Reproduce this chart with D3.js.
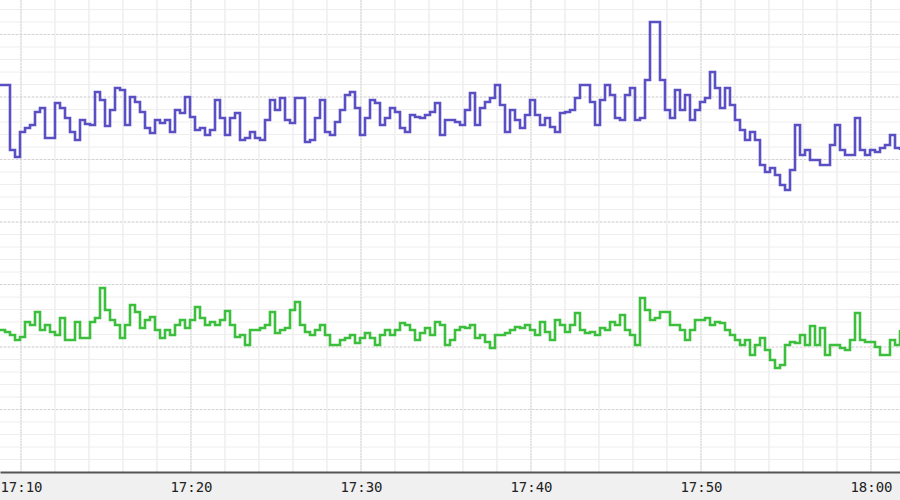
<!DOCTYPE html>
<html><head><meta charset="utf-8">
<script src="https://cdn.jsdelivr.net/npm/d3@7"></script>
<style>body{margin:0;background:#fff}svg{display:block}</style>
</head><body><svg id="c" width="900" height="500"></svg>
<script>
// sample step: 17.647 s, first sample at 17:08:46
const startTime = new Date(2020,0,1,17,8,46);
const stepSec = 300/17;
const tickLabels = ["17:10","17:20","17:30","17:40","17:50","18:00"];
const blueValues = [387,387,322,315,340,344,347,360,364,334,334,369,364,354,340,332,352,348,347,380,372,346,362,384,382,347,375,370,360,344,339,352,349,352,340,362,359,375,355,342,344,337,342,372,354,337,354,359,332,334,340,334,332,352,372,362,374,352,349,374,374,330,332,354,372,340,337,350,362,377,380,364,337,354,372,369,347,354,364,360,344,340,357,355,354,357,360,369,337,352,352,350,347,362,379,347,364,370,374,387,367,340,362,352,344,357,372,357,347,354,345,340,359,360,362,374,387,387,370,347,372,387,377,354,352,377,384,352,354,392,450,450,392,362,354,382,362,377,352,362,370,374,400,384,364,384,367,352,342,332,340,332,307,300,304,297,287,282,302,347,317,322,312,312,307,307,327,347,322,317,317,354,322,317,322,320,324,327,337,324,322];
const greenValues = [142,140,137,132,135,150,147,160,142,147,140,137,154,132,132,150,134,134,150,154,184,162,152,147,134,147,167,160,144,152,155,142,134,142,137,147,152,144,152,165,154,147,150,147,152,161,147,135,137,127,142,142,144,147,160,139,142,144,162,170,147,140,137,142,147,137,127,127,132,134,137,129,134,139,134,127,137,142,137,142,149,147,142,132,139,144,137,150,147,127,132,142,145,144,147,134,137,130,124,137,137,139,142,145,144,147,142,137,150,140,132,152,147,140,147,159,142,139,140,137,144,142,150,147,157,142,137,127,174,162,152,154,160,160,147,147,142,132,142,152,152,154,147,150,149,142,137,132,127,132,117,127,134,122,112,104,107,127,130,129,137,127,146,127,144,117,127,127,124,122,132,159,132,130,130,125,117,117,132,127,142];

const W=900, H=472;
const svg=d3.select("#c");
const x=d3.scaleTime().domain([startTime,new Date(+startTime+900/17*60000)]).range([0,W]);
const y=d3.scaleLinear().domain([0,472]).range([H,0]);
const t=i=>new Date(+startTime+i*stepSec*1000);

svg.append("rect").attr("x",0).attr("y",H).attr("width",W).attr("height",500-H).attr("fill","#f0f0f0");
const g=svg.append("g");
x.ticks(d3.timeMinute.every(2)).forEach(d=>g.append("line").attr("x1",x(d)).attr("x2",x(d)).attr("y1",0).attr("y2",H).attr("stroke","#e6e6e6"));
d3.range(12.5,472,12.5).forEach(v=>g.append("line").attr("x1",0).attr("x2",W).attr("y1",y(v)).attr("y2",y(v)).attr("stroke","#eeeeee"));
x.ticks(d3.timeMinute.every(10)).forEach(d=>g.append("line").attr("x1",x(d)).attr("x2",x(d)).attr("y1",0).attr("y2",H).attr("stroke","#d8d8d8").attr("stroke-dasharray","2,1"));
d3.range(62.5,472,62.5).forEach(v=>g.append("line").attr("x1",0).attr("x2",W).attr("y1",y(v)).attr("y2",y(v)).attr("stroke","#d6d0d0").attr("stroke-dasharray","2,2"));

const line=d3.line().x((d,i)=>x(t(i))).y(d=>y(d)).curve(d3.curveStepAfter);
svg.append("path").datum(blueValues).attr("d",line).attr("fill","none").attr("stroke","#5b4fc4").attr("stroke-width",2.6);
svg.append("path").datum(greenValues).attr("d",line).attr("fill","none").attr("stroke","#3cbf3c").attr("stroke-width",2.6);

const ax=svg.append("g").attr("transform",`translate(0,${H})`)
  .call(d3.axisBottom(x).ticks(d3.timeMinute.every(10)).tickSize(0).tickPadding(10).tickFormat((d,i)=>tickLabels[i]));
ax.select(".domain").attr("stroke","#555").attr("stroke-width",2);
ax.selectAll("text").attr("font-family","DejaVu Sans Mono").attr("font-size",14).attr("fill","#222");
</script></body></html>
